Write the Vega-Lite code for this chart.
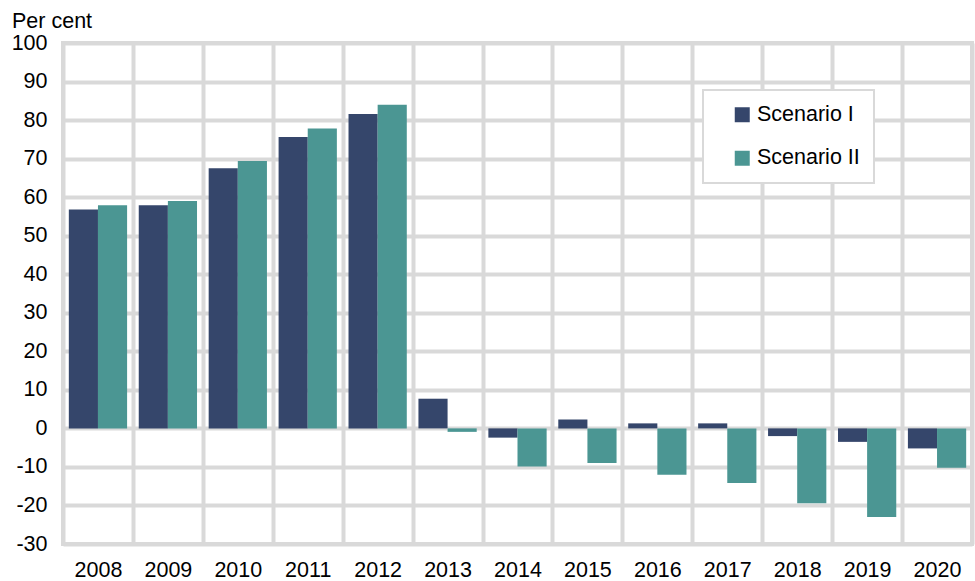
{
  "$schema": "https://vega.github.io/schema/vega-lite/v6.json",
  "width": 909,
  "height": 501,
  "autosize": "none",
  "padding": {"left": 63, "top": 43, "right": 3, "bottom": 37},
  "config": {
    "view": {"stroke": "#d9d9d9", "strokeWidth": 4},
    "font": "Liberation Sans"
  },
  "data": {
    "values": [
      {"year": "2008", "scenario": "Scenario I", "value": 56.8},
      {"year": "2008", "scenario": "Scenario II", "value": 57.9},
      {"year": "2009", "scenario": "Scenario I", "value": 57.9},
      {"year": "2009", "scenario": "Scenario II", "value": 59.0},
      {"year": "2010", "scenario": "Scenario I", "value": 67.5},
      {"year": "2010", "scenario": "Scenario II", "value": 69.4},
      {"year": "2011", "scenario": "Scenario I", "value": 75.6},
      {"year": "2011", "scenario": "Scenario II", "value": 77.8},
      {"year": "2012", "scenario": "Scenario I", "value": 81.6},
      {"year": "2012", "scenario": "Scenario II", "value": 84.0},
      {"year": "2013", "scenario": "Scenario I", "value": 7.7},
      {"year": "2013", "scenario": "Scenario II", "value": -0.9},
      {"year": "2014", "scenario": "Scenario I", "value": -2.4},
      {"year": "2014", "scenario": "Scenario II", "value": -9.9},
      {"year": "2015", "scenario": "Scenario I", "value": 2.3},
      {"year": "2015", "scenario": "Scenario II", "value": -9.0},
      {"year": "2016", "scenario": "Scenario I", "value": 1.3},
      {"year": "2016", "scenario": "Scenario II", "value": -12.0},
      {"year": "2017", "scenario": "Scenario I", "value": 1.3},
      {"year": "2017", "scenario": "Scenario II", "value": -14.2},
      {"year": "2018", "scenario": "Scenario I", "value": -2.0},
      {"year": "2018", "scenario": "Scenario II", "value": -19.4},
      {"year": "2019", "scenario": "Scenario I", "value": -3.5},
      {"year": "2019", "scenario": "Scenario II", "value": -23.0},
      {"year": "2020", "scenario": "Scenario I", "value": -5.2},
      {"year": "2020", "scenario": "Scenario II", "value": -10.2}
    ]
  },
  "mark": {"type": "bar"},
  "encoding": {
    "x": {
      "field": "year",
      "type": "nominal",
      "scale": {"paddingInner": 0, "paddingOuter": 0},
      "axis": {
        "title": null,
        "labelAngle": 0,
        "grid": true,
        "tickBand": "extent",
        "gridColor": "#d9d9d9",
        "gridWidth": 4,
        "gridOpacity": 1,
        "domain": false,
        "ticks": false,
        "labelFontSize": 21.5,
        "labelColor": "#000000",
        "labelPadding": 15
      }
    },
    "xOffset": {
      "field": "scenario",
      "scale": {"paddingInner": 0, "paddingOuter": 0.2}
    },
    "y": {
      "field": "value",
      "type": "quantitative",
      "scale": {"domain": [-30, 100], "nice": false, "zero": false},
      "axis": {
        "values": [-30, -20, -10, 0, 10, 20, 30, 40, 50, 60, 70, 80, 90, 100],
        "labelExpr": "toString(datum.value)",
        "grid": true,
        "gridColor": "#d9d9d9",
        "gridWidth": 4,
        "gridOpacity": 1,
        "domain": false,
        "ticks": false,
        "labelFontSize": 21.5,
        "labelColor": "#000000",
        "labelPadding": 16,
        "title": "Per cent",
        "titleAngle": 0,
        "titleAlign": "left",
        "titleBaseline": "alphabetic",
        "titleFontSize": 21.5,
        "titleFontWeight": "normal",
        "titleColor": "#000000",
        "titleX": -51.5,
        "titleY": -16
      }
    },
    "color": {
      "field": "scenario",
      "type": "nominal",
      "scale": {"domain": ["Scenario I", "Scenario II"], "range": ["#35466b", "#4b9693"]},
      "legend": {
        "title": null,
        "orient": "none",
        "legendX": 640,
        "legendY": 47,
        "fillColor": "#ffffff",
        "strokeColor": "#d9d9d9",
        "padding": 14,
        "symbolOffset": 14.5,
        "symbolType": "square",
        "symbolSize": 225,
        "symbolStrokeWidth": 0,
        "labelFontSize": 21.5,
        "labelColor": "#000000",
        "labelOffset": 4,
        "rowPadding": 20.5,
        "labelExpr": "datum.label + '\u00a0\u00a0\u00a0'",
        "encode": {"legend": {"update": {"strokeWidth": {"value": 2}}}}
      }
    }
  }
}
